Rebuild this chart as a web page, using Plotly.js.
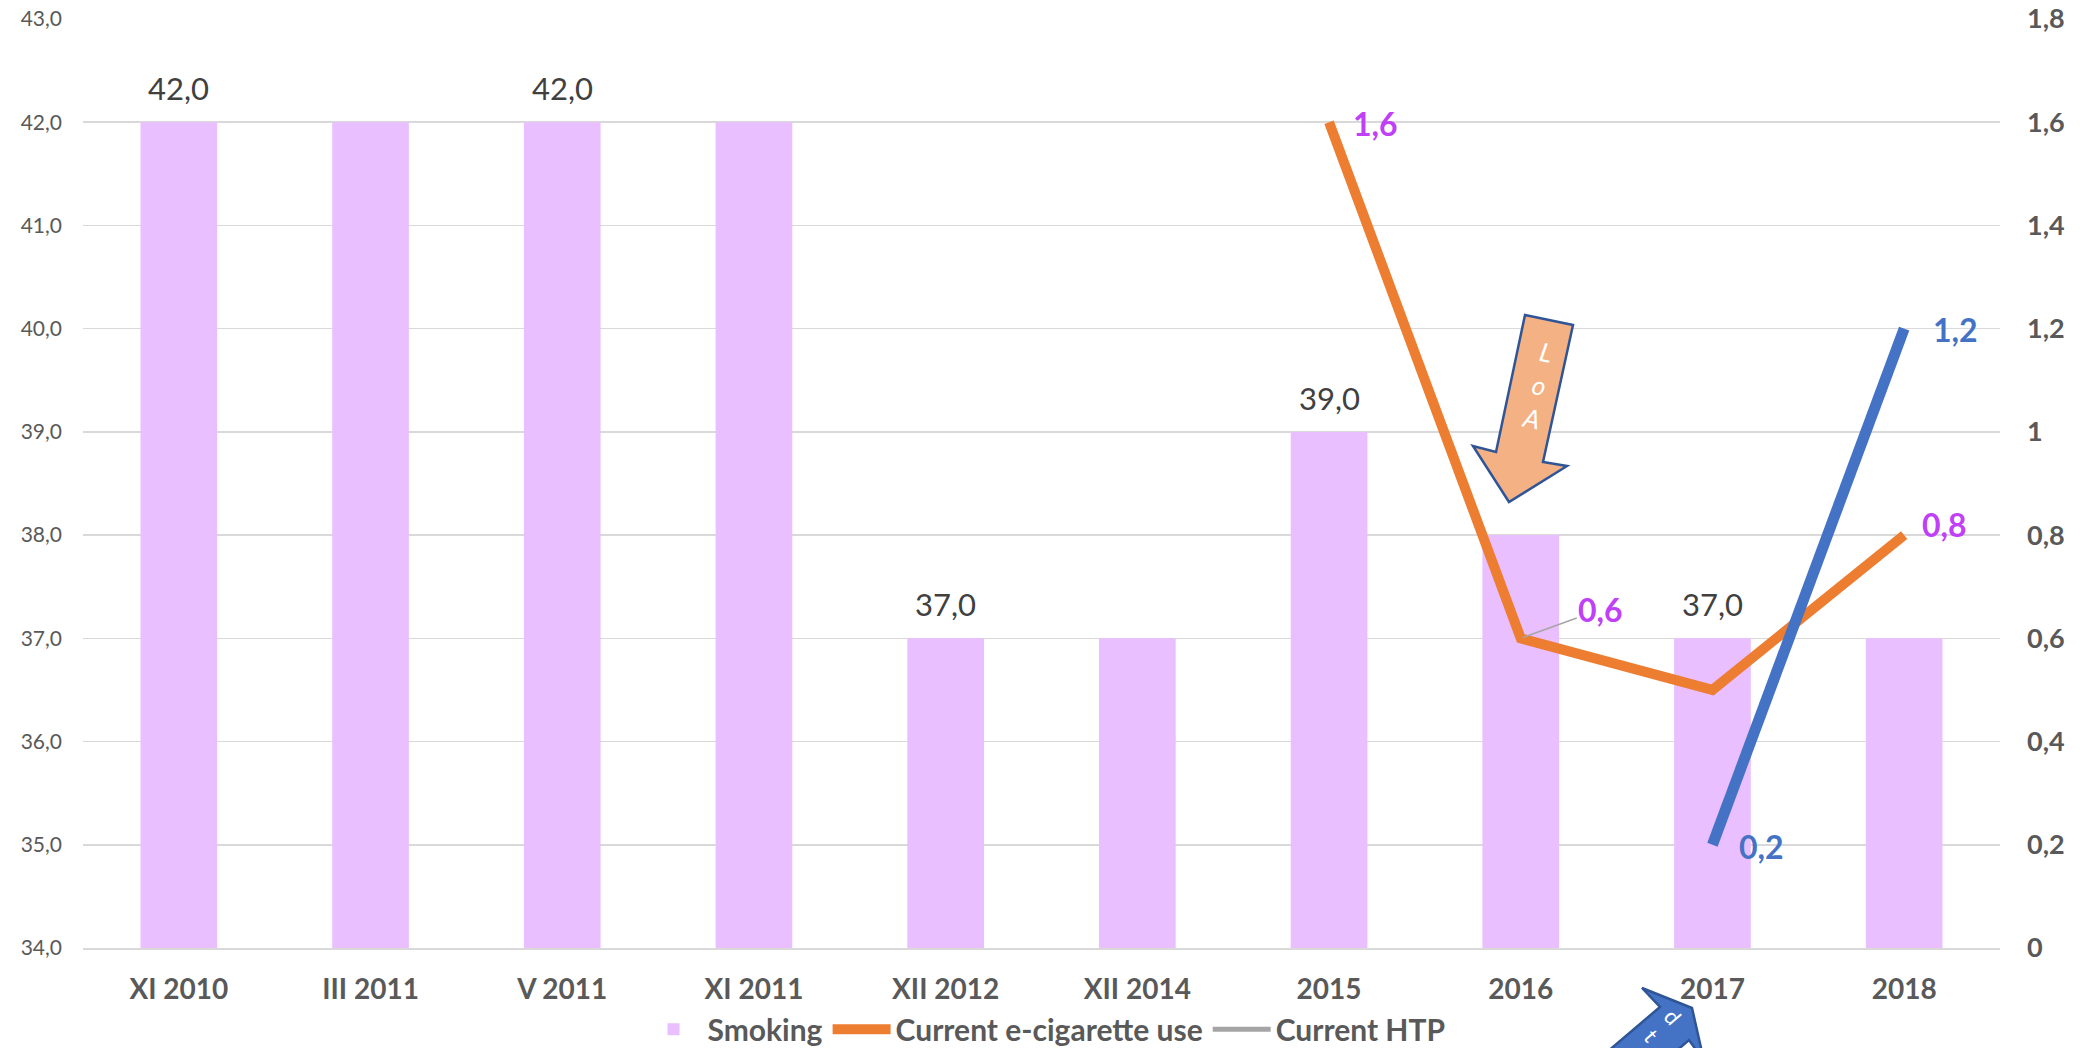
<!DOCTYPE html>
<html>
<head>
<meta charset="utf-8">
<script src="https://cdn.plot.ly/plotly-3.0.1.min.js"></script>
<style>
  html, body { margin: 0; padding: 0; background: #ffffff; }
  #chart { width: 2090px; height: 1048px; }
</style>
</head>
<body>
<div id="chart"></div>
<script>
// ---------- data ----------
const categories = ['XI 2010', 'III 2011', 'V 2011', 'XI 2011', 'XII 2012', 'XII 2014', '2015', '2016', '2017', '2018'];
const smoking = [42, 42, 42, 42, 37, 37, 39, 38, 37, 37];
const smokingLabelShown = [true, false, true, false, true, false, true, false, true, false];
const ecig = [null, null, null, null, null, null, 1.6, 0.6, 0.5, 0.8];
const ecigLabelShown = [false, false, false, false, false, false, true, true, false, true];
const htp = [null, null, null, null, null, null, null, null, 0.2, 1.2];
const htpLabelShown = [false, false, false, false, false, false, false, false, true, true];
const seriesNames = ['Smoking', 'Current e-cigarette use', 'Current HTP'];
const leftRange = [34, 43];
const rightRange = [0, 1.8];

// ---------- styling ----------
const FONT = 'Lato, "Liberation Sans", Arial, sans-serif';
const W = 2090, H = 1048;
const M = {l: 83, r: 90, t: 19, b: 100};
const plotW = W - M.l - M.r, plotH = H - M.t - M.b;
function px(x) { return (x - M.l) / plotW; }
function py(y) { return (H - M.b - y) / plotH; }
function pathFrom(pts) {
  return 'M ' + pts.map(p => px(p[0]).toFixed(5) + ',' + py(p[1]).toFixed(5)).join(' L ') + ' Z';
}
function fmt1(v) { return v.toFixed(1).replace('.', ','); }

// label offsets (style only)
const ecigOffsets = {6: {xs: 22, ys: -1}, 9: {xs: 16, ys: 11}};
const htpOffsets = {8: {xs: 25, ys: -2}, 9: {xs: 27, ys: -1}};

const traces = [
  {
    type: 'bar', name: seriesNames[0], x: categories, y: smoking,
    marker: {color: '#EABFFF'}, hoverinfo: 'x+y'
  },
  {
    type: 'scatter', mode: 'lines', name: seriesNames[1], x: categories, y: ecig, yaxis: 'y2',
    line: {color: '#ED7D31', width: 10}, connectgaps: false
  },
  {
    type: 'scatter', mode: 'lines', name: seriesNames[2], x: categories, y: htp, yaxis: 'y2',
    line: {color: '#4472C4', width: 11}, showlegend: false
  },
  {
    type: 'scatter', mode: 'lines', name: seriesNames[2], x: [categories[0]], y: [null], yaxis: 'y2',
    line: {color: '#A5A5A5', width: 5}, showlegend: true, hoverinfo: 'skip'
  }
];

const annotations = [];
smoking.forEach((v, i) => {
  if (!smokingLabelShown[i]) return;
  annotations.push({
    x: i, y: v, xref: 'x', yref: 'y', text: fmt1(v), showarrow: false,
    xanchor: 'center', yanchor: 'middle', yshift: 34,
    font: {family: FONT, size: 31, color: '#404040'}
  });
});
ecig.forEach((v, i) => {
  if (!ecigLabelShown[i] || v === null) return;
  const base = {
    x: i, y: v, xref: 'x', yref: 'y2', text: fmt1(v),
    font: {family: FONT, size: 32, color: '#C040F8', weight: 700}
  };
  if (ecigOffsets[i]) {
    Object.assign(base, {showarrow: false, xanchor: 'left', yanchor: 'middle',
      xshift: ecigOffsets[i].xs, yshift: ecigOffsets[i].ys});
  } else {
    Object.assign(base, {showarrow: true, arrowhead: 0, arrowwidth: 1.5, arrowcolor: '#A6A6A6',
      ax: 80, ay: -29, standoff: 2});
  }
  annotations.push(base);
});
htp.forEach((v, i) => {
  if (!htpLabelShown[i] || v === null) return;
  annotations.push({
    x: i, y: v, xref: 'x', yref: 'y2', text: fmt1(v), showarrow: false,
    xanchor: 'left', yanchor: 'middle', xshift: htpOffsets[i].xs, yshift: htpOffsets[i].ys,
    font: {family: FONT, size: 32, color: '#4472C4', weight: 700}
  });
});
// arrow callout texts
annotations.push({
  xref: 'paper', yref: 'paper', x: px(1538), y: py(385), text: 'L<br>o<br>A', showarrow: false,
  textangle: 12, xanchor: 'center', yanchor: 'middle',
  font: {family: FONT, size: 26, color: '#ffffff', style: 'italic'}
});
annotations.push({
  xref: 'paper', yref: 'paper', x: px(1662), y: py(1026), text: 'd<br>t', showarrow: false,
  textangle: 49, xanchor: 'center', yanchor: 'middle',
  font: {family: FONT, size: 22, color: '#ffffff'}
});

const shapes = [
  {
    type: 'path', xref: 'paper', yref: 'paper', layer: 'above',
    path: pathFrom([[1525, 315], [1573, 325], [1543, 462], [1567, 466], [1509, 502], [1473, 446], [1496, 452]]),
    fillcolor: '#F4B183', line: {color: '#2F5597', width: 2.5}
  },
  {
    type: 'path', xref: 'paper', yref: 'paper', layer: 'above',
    path: pathFrom([[1560, 1092], [1660, 1007], [1642, 988], [1692, 1008], [1704, 1061], [1689, 1040], [1589, 1126]]),
    fillcolor: '#4472C4', line: {color: '#2F5597', width: 2.5}
  }
];

const layout = {
  width: W, height: H,
  margin: M,
  paper_bgcolor: '#ffffff', plot_bgcolor: '#ffffff',
  separators: ',.',
  bargap: 0.6,
  showlegend: true,
  font: {family: FONT, color: '#595959'},
  xaxis: {
    type: 'category', range: [-0.5, categories.length - 0.5], autorange: false,
    showgrid: false, zeroline: false,
    showline: true, linecolor: '#D9D9D9', linewidth: 1.5,
    tickfont: {family: FONT, size: 28, color: '#595959', weight: 700},
    ticklabelstandoff: 16, fixedrange: true
  },
  yaxis: {
    range: leftRange, autorange: false, dtick: 1, tick0: 34, tickformat: '.1f',
    showgrid: true, gridcolor: '#D9D9D9', gridwidth: 1.5, zeroline: false, showline: false,
    tickfont: {family: FONT, size: 21, color: '#595959'},
    ticklabelstandoff: 20, fixedrange: true
  },
  yaxis2: {
    range: rightRange, autorange: false, dtick: 0.2, tick0: 0, overlaying: 'y', side: 'right',
    showgrid: false, zeroline: false, showline: false,
    tickfont: {family: FONT, size: 27, color: '#595959', weight: 700},
    ticklabelstandoff: 26, fixedrange: true
  },
  legend: {
    orientation: 'h', xref: 'container', yref: 'container',
    x: 0.5, xanchor: 'center', y: 0.018, yanchor: 'middle',
    font: {family: FONT, size: 30, color: '#595959', weight: 700},
    bgcolor: 'rgba(0,0,0,0)', itemwidth: 58, traceorder: 'normal'
  },
  annotations: annotations,
  shapes: shapes
};

Plotly.newPlot('chart', traces, layout, {displayModeBar: false, staticPlot: true});
</script>
</body>
</html>
